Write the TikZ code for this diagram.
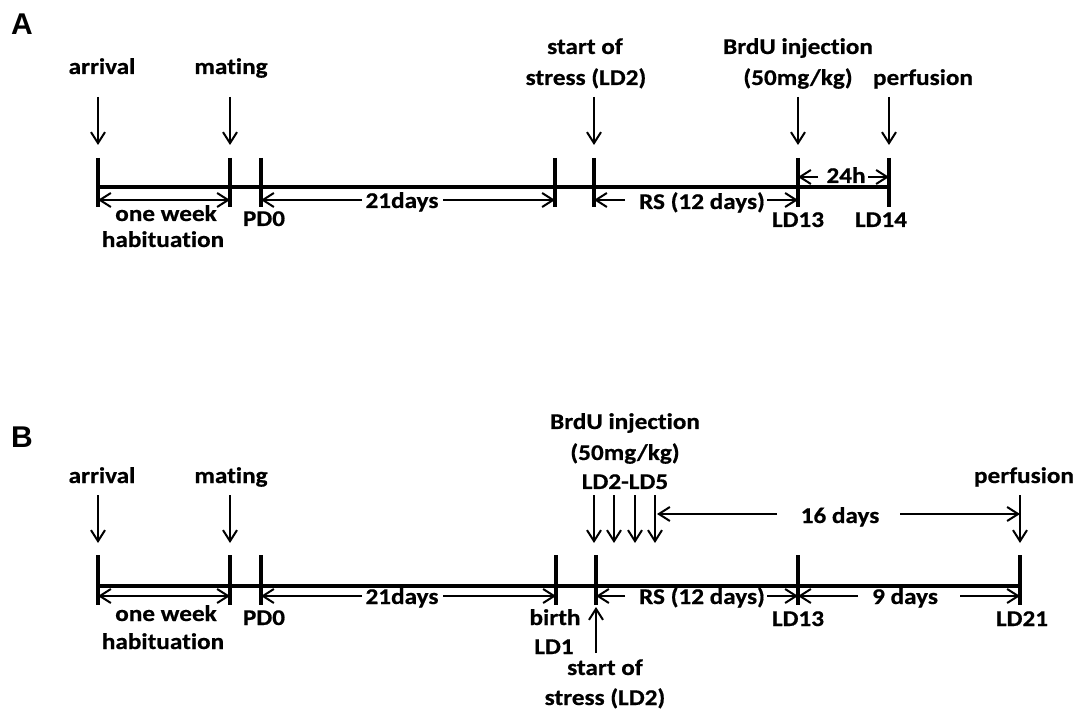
\documentclass[tikz,border=0pt]{standalone}
\usepackage{fontspec}
\newfontfamily\cbf{Carlito}[FakeStretch=1.12, FakeBold=0.6, Ligatures=NoCommon]
\newfontfamily\arb{Liberation Sans}
\usetikzlibrary{arrows.meta}
\begin{document}
\begin{tikzpicture}[x=1pt,y=-1pt,
  lbl/.style={font=\cbf\bfseries\fontsize{22.5}{27}\selectfont, inner sep=0pt, anchor=base},
  panel/.style={font=\arb\bfseries\fontsize{30}{34}\selectfont, inner sep=0pt, anchor=base west},
  mainline/.style={line width=3.5pt},
  tickline/.style={line width=3.5pt},
  arr/.style={line width=2pt, -{Straight Barb[length=11pt,width=14pt]}},
  dimarr/.style={line width=2pt, {Straight Barb[length=11pt,width=14pt]}-{Straight Barb[length=11pt,width=14pt]}},
]
\useasboundingbox (0,0) rectangle (1080,711);

% ================= Panel A =================
\node[panel] (pA) at (11,35) {A};
\node[lbl] (arrA) at (102,74) {arrival};
\node[lbl] (matA) at (231,74) {mating};
\node[lbl] (stA1) at (585,54) {start of};
\node[lbl] (stA2) at (586,85) {stress (LD2)};
\node[lbl] (brA1) at (798,54) {BrdU injection};
\node[lbl] (brA2) at (798,85) {(50mg/kg)};
\node[lbl] (perA) at (923,85) {perfusion};

\foreach \n/\x in {a/98,b/230,c/594,d/798,e/889}{
  \coordinate (dA\n1) at (\x,97);
  \coordinate (dA\n2) at (\x,145);
  \draw[arr] (dA\n1) -- (dA\n2);
}

\foreach \n/\x in {1/98,2/230,3/261,4/555,5/594,6/798,7/889}{
  \coordinate (tA\n) at (\x,158);
  \coordinate (bA\n) at (\x,207);
  \coordinate (lA\n) at (\x,200);
  \coordinate (hA\n) at (\x,177);
  \draw[tickline] (tA\n) -- (bA\n);
}
\coordinate (mA1) at (98,187);
\coordinate (mA7) at (889,187);
\draw[mainline] (mA1) -- (mA7);

\draw[dimarr] (lA1) -- (lA2);
\node[lbl] (d21A) at (402,208) {21days};
\coordinate (d21Aa) at (362,200);
\coordinate (d21Ab) at (443,200);
\draw[arr] (d21Aa) -- (lA3);
\draw[arr] (d21Ab) -- (lA4);
\node[lbl] (rsA) at (702,209) {RS (12 days)};
\coordinate (rsAa) at (625,200);
\coordinate (rsAb) at (767,200);
\draw[arr] (rsAa) -- (lA5);
\draw[arr] (rsAb) -- (lA6);
\node[lbl] (h24A) at (846,183) {24h};
\coordinate (h24Aa) at (818,177);
\coordinate (h24Ab) at (868,177);
\draw[arr] (h24Aa) -- (hA6);
\draw[arr] (h24Ab) -- (hA7);

\node[lbl] (owA) at (166,221) {one week};
\node[lbl] (habA) at (163,247) {habituation};
\node[lbl] (pdA) at (264,226) {PD0};
\node[lbl] (ld13A) at (798,227) {LD13};
\node[lbl] (ld14A) at (881,227) {LD14};

% ================= Panel B =================
\node[panel] (pB) at (11,448) {B};
\node[lbl] (arrB) at (102,483) {arrival};
\node[lbl] (matB) at (231,483) {mating};
\node[lbl] (brB1) at (625,429) {BrdU injection};
\node[lbl] (brB2) at (625,460) {(50mg/kg)};
\node[lbl] (brB3) at (625,489) {LD2-LD5};
\node[lbl] (perB) at (1024,483) {perfusion};

\foreach \n/\x in {a/98,b/230,c/594,d/614,e/635,f/655,g/1020}{
  \coordinate (dB\n1) at (\x,495);
  \coordinate (dB\n2) at (\x,543);
  \draw[arr] (dB\n1) -- (dB\n2);
}

\foreach \n/\x in {1/98,2/230,3/261,4/556,5/596,6/798,7/1020}{
  \coordinate (tB\n) at (\x,555);
  \coordinate (bB\n) at (\x,605);
  \coordinate (lB\n) at (\x,596);
  \draw[tickline] (tB\n) -- (bB\n);
}
\coordinate (mB1) at (98,586);
\coordinate (mB7) at (1020,586);
\draw[mainline] (mB1) -- (mB7);

% 16 days
\node[lbl] (d16B) at (840,523) {16 days};
\coordinate (d16Ba) at (777,514);
\coordinate (d16Bb) at (900,514);
\coordinate (d16Bl) at (657,514);
\coordinate (d16Br) at (1020,514);
\draw[arr] (d16Ba) -- (d16Bl);
\draw[arr] (d16Bb) -- (d16Br);

\draw[dimarr] (lB1) -- (lB2);
\node[lbl] (d21B) at (402,604) {21days};
\coordinate (d21Ba) at (362,596);
\coordinate (d21Bb) at (443,596);
\draw[arr] (d21Ba) -- (lB3);
\draw[arr] (d21Bb) -- (lB4);
\node[lbl] (rsB) at (702,604) {RS (12 days)};
\coordinate (rsBa) at (625,596);
\coordinate (rsBb) at (767,596);
\draw[arr] (rsBa) -- (lB5);
\draw[arr] (rsBb) -- (lB6);
\node[lbl] (d9B) at (905,604) {9 days};
\coordinate (d9Ba) at (858,596);
\coordinate (d9Bb) at (960,596);
\draw[arr] (d9Ba) -- (lB6);
\draw[arr] (d9Bb) -- (lB7);

\node[lbl] (owB) at (166,621) {one week};
\node[lbl] (habB) at (163,649) {habituation};
\node[lbl] (pdB) at (264,625) {PD0};
\node[lbl] (birB) at (555,625) {birth};
\node[lbl] (ld1B) at (554,654) {LD1};
\node[lbl] (stB1) at (605,675) {start of};
\node[lbl] (stB2) at (605,705) {stress (LD2)};
\node[lbl] (ld13B) at (798,626) {LD13};
\node[lbl] (ld21B) at (1022,626) {LD21};

\coordinate (upB1) at (596,653);
\coordinate (upB2) at (596,607);
\draw[arr] (upB1) -- (upB2);

\end{tikzpicture}
\end{document}
